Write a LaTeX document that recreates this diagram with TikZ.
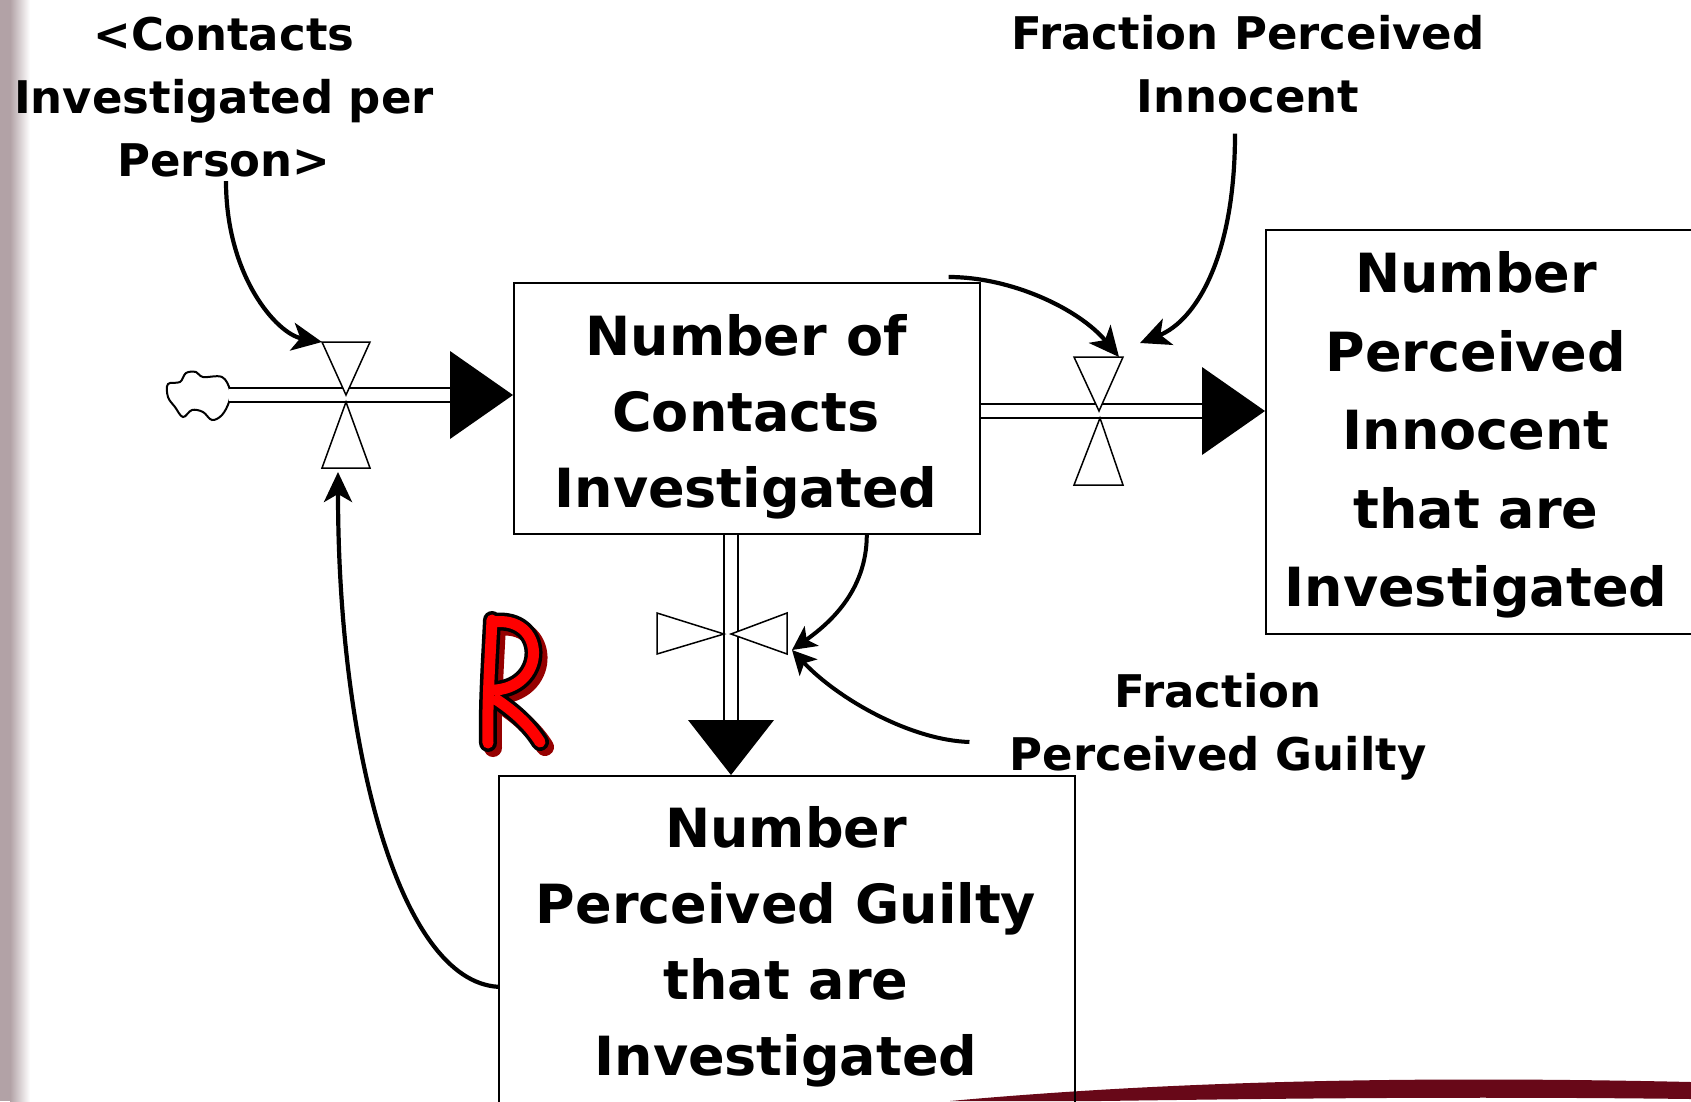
\documentclass[tikz,border=0pt]{standalone}
\usepackage{fontspec}
\setmainfont{DejaVu Sans}
\usetikzlibrary{arrows.meta,calc}
\definecolor{swooshc}{RGB}{104,8,24}
\definecolor{stripc}{RGB}{178,162,166}
\definecolor{rshadow}{RGB}{150,0,0}
\definecolor{rred}{RGB}{255,0,0}
\begin{document}
\begin{tikzpicture}[x=1pt,y=-1pt,
 stock/.style={draw, line width=1.6pt, rectangle, inner sep=0pt, anchor=north west},
 stocktext/.style={font=\bfseries\fontsize{54}{76}\selectfont, align=center, inner sep=0pt},
 lbl/.style={font=\bfseries\fontsize{45}{63}\selectfont, align=center, inner sep=0pt},
 pipe/.style={double=white, double distance=12.5pt, line width=1.8pt},
 valve/.style={draw, fill=white, line width=1.5pt, line join=miter},
 link/.style={line width=4.2pt, -{Stealth[length=30pt,width=28pt,inset=8pt]}},
 slink/.style={line width=4pt, -{Stealth[length=24pt,width=24pt,inset=6pt]}},
 rstroke/.style={line cap=round, line join=round}
]
\useasboundingbox (0,0) rectangle (1691,1101);
\clip (0,0) rectangle (1691,1101);
\fill[white] (0,0) rectangle (1691,1101);
\fill[stripc] (0,0) rectangle (10,1101);
\shade[left color=stripc, right color=white] (10,0) rectangle (30,1101);

% swoosh at the bottom
\fill[swooshc] (950,1101) .. controls (1150,1083) and (1380,1075) .. (1691,1082)
  -- (1691,1099) .. controls (1450,1096) and (1250,1099) .. (1100,1101) -- cycle;

% stocks
\node[stock, minimum width=466pt, minimum height=251pt] (A) at (513,282) {};
\node[stock, minimum width=455pt, minimum height=404pt] (B) at (1265,229) {};
\node[stock, minimum width=576pt, minimum height=380pt] (C) at (498,775) {};
\node[stocktext] (At) at (746,417) {Number of\\Contacts\\Investigated};
\node[stocktext, font=\bfseries\fontsize{54}{78.5}\selectfont] (Bt) at (1476,435) {Number\\Perceived\\Innocent\\that are\\Investigated};
\node[stocktext] (Ct) at (786,947) {Number\\Perceived Guilty\\that are\\Investigated};

% labels
\node[lbl] (ci) at (224,97) {<Contacts\\Investigated per\\Person>};
\node[lbl] (fpi) at (1248,64.5) {Fraction Perceived\\Innocent};
\node[lbl] (fpg) at (1218,727) {Fraction\\Perceived Guilty};

% cloud
\coordinate (cloud) at (229,395);
\draw[line width=2pt] plot[smooth cycle, tension=0.6] coordinates {(230,390) (222,377) (203,377) (196,372) (186,373) (180,382) (168,384) (168,397) (175,407) (183,417) (192,410) (203,412) (212,420) (222,415) (229,402)};

% pipes
\coordinate (p1e) at (450,395);
\draw[pipe] (cloud) -- (p1e);
\fill ($(p1e)+(0,-44)$) -- (A.west |- p1e) -- ($(p1e)+(0,44)$) -- cycle;

\coordinate (p2e) at (1202,411);
\draw[pipe] (A.east |- p2e) -- (p2e);
\fill ($(p2e)+(0,-44)$) -- (B.west |- p2e) -- ($(p2e)+(0,44)$) -- cycle;

\coordinate (p3e) at (731,720);
\draw[pipe] (A.south -| p3e) -- (p3e);
\fill ($(p3e)+(-43,0)$) -- (C.north -| p3e) -- ($(p3e)+(43,0)$) -- cycle;

% valves
\draw[valve] (322,342) -- (370,342) -- (346,395) -- cycle;
\draw[valve] (346,402) -- (370,468) -- (322,468) -- cycle;
\draw[valve] (1074,357) -- (1123,357) -- (1099,411) -- cycle;
\draw[valve] (1100,418) -- (1123,485) -- (1074,485) -- cycle;
\draw[valve] (657,613) -- (724,634) -- (657,654) -- cycle;
\draw[valve] (731,634) -- (787,613) -- (787,654) -- cycle;

% connector targets
\coordinate (v1in) at (322,342);
\coordinate (v1fb) at (338,472);
\coordinate (v2a) at (1119,357);
\coordinate (v2b) at (1140,343);
\coordinate (v3) at (792,650);

% connectors
\draw[link] ([xshift=2pt,yshift=-4pt]ci.south) .. controls +(0,95) and +(-45,-8) .. (v1in);
\draw[link] ([yshift=-21pt]C.west) .. controls +(-98,-6) and +(0,278) .. (v1fb);
\draw[link] ([xshift=-13pt,yshift=-20pt]fpi.south) .. controls +(0,125) and +(55,-22) .. (v2b);
\draw[link] ([xshift=-32pt,yshift=5pt]A.north east) .. controls +(63,0) and +(-40,-48) .. (v2a);
\draw[slink] ([xshift=120pt]A.south) .. controls +(0,58) and +(35,-25) .. (v3);
\draw[slink] ([xshift=-40pt,yshift=-15pt]fpg.west) .. controls +(-60,-2) and +(45,48) .. (v3);

% R loop marker
\draw[rshadow, line width=18pt, rstroke, shift={(5,5)}]
  (492,620) .. controls (490,660) and (487,705) .. (488,743)
  (493,622) .. controls (545,615) and (548,685) .. (496,690)
  (497,700) .. controls (515,712) and (530,726) .. (540,742);
\draw[black, line width=18pt, rstroke]
  (492,620) .. controls (490,660) and (487,705) .. (488,743)
  (493,622) .. controls (545,615) and (548,685) .. (496,690)
  (497,700) .. controls (515,712) and (530,726) .. (540,742);
\draw[rred, line width=11pt, rstroke]
  (492,620) .. controls (490,660) and (487,705) .. (488,743)
  (493,622) .. controls (545,615) and (548,685) .. (496,690)
  (497,700) .. controls (515,712) and (530,726) .. (540,742);
\end{tikzpicture}
\end{document}
